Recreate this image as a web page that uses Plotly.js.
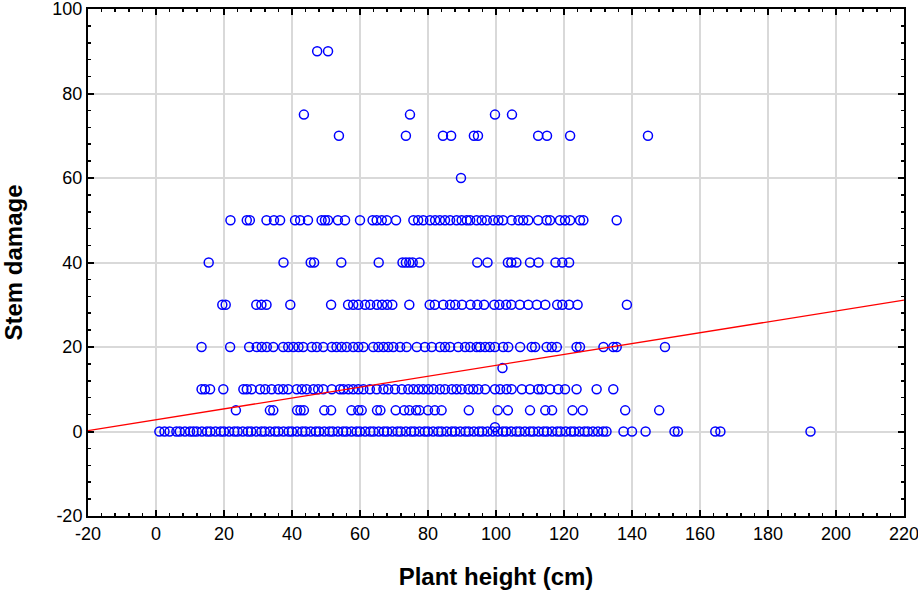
<!DOCTYPE html>
<html>
<head>
<meta charset="utf-8">
<script src="https://cdn.plot.ly/plotly-3.0.1.min.js"></script>
<style>html,body{margin:0;padding:0;background:#fff;}#chart{width:918px;height:591px;}</style>
</head>
<body>
<div id="chart"></div>
<script>
// Plant heights (cm) observed at each stem-damage level
const heightsDamage0 = [1, 2.5, 4, 6, 7, 8.5, 10, 11, 12, 13.5, 15, 16, 17.5, 19, 20, 21.5, 23, 24, 25.5, 27, 28, 29.5, 31, 32, 33.5, 35, 36, 37.5, 39, 40, 41.5, 43, 44, 45.5, 47, 48, 49.5, 51, 52, 53.5, 55, 56, 57.5, 59, 60, 61.5, 63, 64, 65.5, 67, 68, 69.5, 71, 72, 73.5, 75, 76, 77.5, 79, 80, 81.5, 83, 84, 85.5, 87, 88, 89.5, 91, 92, 93.5, 95, 96, 97.5, 99, 100.5, 102, 103, 104.5, 106, 107, 108.5, 110, 111, 112.5, 114, 115, 116.5, 118, 119, 120.5, 122, 123, 124.5, 126, 127, 128.5, 130, 131.5, 132.5, 137.5, 140, 144, 152.5, 153.5, 164.5, 166, 192.5];
const heightsDamage1 = [99.7];
const heightsDamage5 = [23.5, 33.5, 34.5, 41.5, 42.5, 43.5, 49.5, 51.5, 57.5, 59.5, 60.5, 65, 66, 70.5, 73, 74.5, 76.5, 77.5, 80, 82, 84, 92, 100.5, 103.5, 110, 114.5, 116.5, 122.5, 125.5, 138, 148];
const heightsDamage10 = [13.4, 14.4, 15.9, 19.8, 25.7, 26.7, 28.1, 30.6, 32.1, 34, 36, 37.4, 38.9, 41.4, 42.9, 44.3, 46.3, 47.7, 49.2, 51.7, 54.1, 55.1, 56.6, 58, 59.5, 61, 62.9, 64.9, 66.9, 68.3, 70.3, 72.3, 74.2, 75.7, 77.2, 78.6, 80.1, 81.6, 83.5, 85, 87, 88.4, 89.9, 91.9, 93.3, 94.8, 96.8, 99.7, 101.2, 103.1, 104.6, 107.6, 110, 112.4, 113.4, 115.9, 118.3, 120.3, 123.7, 129.6, 134.5];
const heightsDamage15 = [101.9];
const heightsDamage20 = [13.4, 21.8, 27.4, 29.6, 31.1, 32.6, 34.5, 37.4, 38.9, 40.4, 41.9, 43.3, 45.8, 47.3, 49.2, 51.7, 53.1, 54.6, 56.1, 58, 59.5, 61, 63.9, 65.4, 66.9, 68.3, 69.8, 71.8, 73.7, 76.7, 79.1, 81.1, 83.5, 85, 86.5, 88.9, 90.9, 92.4, 94.3, 95.3, 96.8, 98.2, 99.7, 102.1, 103.6, 107.1, 110.5, 111.5, 114.9, 116.4, 117.9, 123.7, 124.7, 131.6, 134.5, 135.5, 149.7];
const heightsDamage30 = [19.5, 20.5, 29.5, 31, 32.5, 39.5, 51.5, 56.5, 58, 59.5, 61.5, 63, 65, 66.5, 68, 69.5, 74.5, 80.5, 82, 84.5, 86.5, 88, 90, 92.5, 94.5, 96.5, 99.5, 101, 103, 104.5, 107, 109.5, 112, 114.5, 118, 119.5, 121.5, 124, 138.5];
const heightsDamage40 = [15.5, 37.5, 45.5, 46.5, 54.5, 65.5, 72.5, 73.5, 74.5, 75.5, 77.5, 94.5, 97.5, 103.5, 104.5, 106, 110, 112.5, 117.5, 119.5, 121.5];
const heightsDamage50 = [21.9, 26.7, 27.6, 32.5, 34.7, 36.5, 40.9, 42.4, 44.7, 48.7, 49.7, 50.6, 53.5, 55.6, 60, 63.7, 64.9, 66.4, 67.9, 70.6, 75.7, 77.1, 78.6, 80.6, 82.1, 83.5, 85, 86.5, 88.4, 89.9, 91.4, 92.4, 94.3, 95.8, 97.3, 99.2, 100.7, 102.1, 104.6, 106.6, 108, 109.5, 112.4, 114.9, 115.9, 118.8, 120.3, 121.8, 124.7, 125.7, 135.5];
const heightsDamage60 = [89.7];
const heightsDamage70 = [53.8, 73.5, 84.4, 86.8, 93.5, 94.7, 112.4, 115, 121.8, 144.7];
const heightsDamage75 = [43.5, 74.7, 99.7, 104.7];
const heightsDamage90 = [47.4, 50.6];

const damageLevels = [0, 1, 5, 10, 15, 20, 30, 40, 50, 60, 70, 75, 90];
const heightGroups = [heightsDamage0, heightsDamage1, heightsDamage5, heightsDamage10, heightsDamage15, heightsDamage20, heightsDamage30, heightsDamage40, heightsDamage50, heightsDamage60, heightsDamage70, heightsDamage75, heightsDamage90];

// Fitted regression line endpoints
const fitX = [-20, 220];
const fitY = [0.2, 31.1];

const xTickVals = [-20, 0, 20, 40, 60, 80, 100, 120, 140, 160, 180, 200, 220];
const yTickVals = [-20, 0, 20, 40, 60, 80, 100];

const px = [], py = [];
heightGroups.forEach((g, i) => g.forEach(h => { px.push(h); py.push(damageLevels[i]); }));

const traces = [
  {
    type: 'scatter', mode: 'markers', x: px, y: py,
    marker: {symbol: 'circle-open', size: 9, color: '#0000ff', line: {width: 1.5, color: '#0000ff'}},
    hoverinfo: 'x+y', showlegend: false
  },
  {
    type: 'scatter', mode: 'lines', x: fitX, y: fitY,
    line: {color: '#ff0000', width: 1.3}, showlegend: false
  }
];

const fontFam = 'Liberation Sans, Arial, sans-serif';
const axisCommon = {
  showline: true, linecolor: '#000', linewidth: 2, mirror: 'allticks',
  ticks: 'inside', ticklen: 6, tickwidth: 2, tickcolor: '#000',
  showgrid: true, gridcolor: '#d9d9d9', gridwidth: 2,
  zeroline: false, ticklabeloverflow: 'allow',
  tickfont: {family: fontFam, size: 18, color: '#000'},
  minor: {dtick: 4, ticks: 'inside', ticklen: 3, tickwidth: 1.5, tickcolor: '#000', showgrid: false}
};

const layout = {
  width: 918, height: 591,
  margin: {l: 88, r: 14, t: 9, b: 75},
  paper_bgcolor: '#fff', plot_bgcolor: '#fff',
  xaxis: Object.assign({}, axisCommon, {
    range: [-20, 220], tickmode: 'array', tickvals: xTickVals,
    ticktext: xTickVals.map(String),
    title: {text: 'Plant height (cm)', font: {family: fontFam, size: 24, color: '#000', weight: 'bold'}, standoff: 26}
  }),
  yaxis: Object.assign({}, axisCommon, {
    range: [-20, 100], tickmode: 'array', tickvals: yTickVals,
    ticktext: yTickVals.map(String),
    title: {text: 'Stem damage', font: {family: fontFam, size: 24, color: '#000', weight: 'bold'}, standoff: 26}
  })
};

Plotly.newPlot('chart', traces, layout, {displayModeBar: false, staticPlot: true});
</script>
</body>
</html>
